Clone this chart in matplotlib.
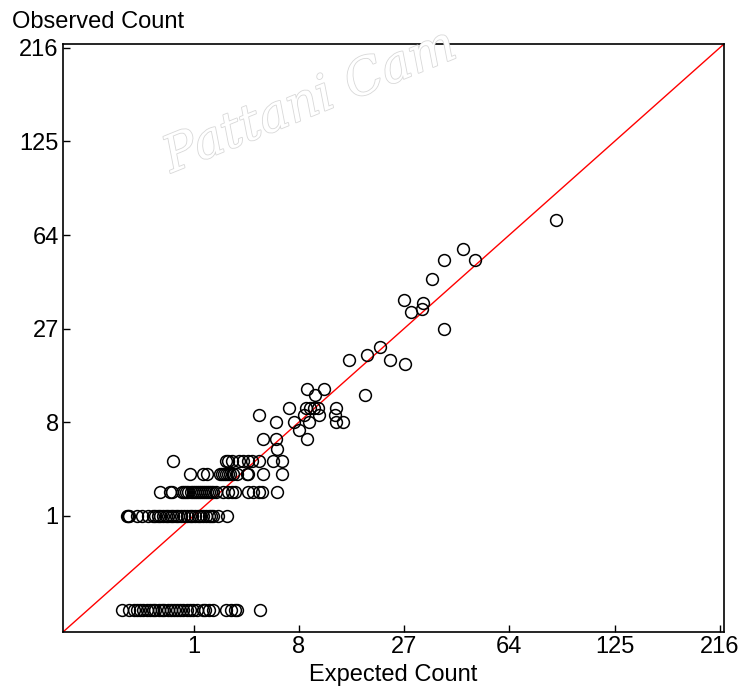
import numpy as np
import matplotlib
matplotlib.use("Agg")
import matplotlib.pyplot as plt
import matplotlib.patheffects as pe

plt.rcParams['font.family'] = ['Liberation Sans', 'DejaVu Sans']

# ---- data (expected count, observed count) ----
upper_expected = [87.6, 45.0, 38.6, 49.7, 34.9, 27.0, 28.7, 32.2, 31.8, 38.6,
                  21.4, 15.25, 18.5, 23.6, 27.2, 18.2, 8.94, 11.27, 10.0]
upper_observed = [72, 57, 52, 52, 44, 36, 32, 35, 33, 27,
                  22, 19, 20, 19, 18, 12, 13, 13, 12]

exp_obs10 = [6.97, 8.85, 9.34, 9.86, 10.39, 13.1]
exp_obs9 = [4.24, 8.60, 10.57, 12.93]
exp_obs8 = [5.65, 7.46, 9.18, 13.1, 14.1]
exp_obs7 = [8.02]
exp_obs6 = [4.55, 5.65, 8.94]
exp_obs5 = [5.79]
exp_obs4 = [0.527, 2.24, 2.35, 2.53, 2.95, 3.19, 3.52, 3.74, 4.29, 5.38, 6.28]
exp_obs3 = [0.90, 1.30, 1.45, 1.96, 2.05, 2.14, 2.25, 2.35, 2.45, 2.58, 2.80,
            3.41, 3.52, 4.55, 6.21]
exp_obs2 = [0.316, 0.47, 0.51, 0.70, 0.75, 0.80, 0.86, 0.92, 0.98, 1.04, 1.10,
            1.17, 1.24, 1.31, 1.38, 1.45, 1.52, 1.60, 1.68, 1.80, 2.11, 2.35,
            2.53, 2.72, 3.52, 3.86, 4.28, 4.47, 5.79]
exp_obs1 = [0.051, 0.055, 0.06, 0.097, 0.13, 0.185, 0.23, 0.26, 0.29, 0.32,
            0.36, 0.40, 0.44, 0.48, 0.53, 0.58, 0.63, 0.69, 0.75, 0.82, 0.89,
            0.96, 1.04, 1.12, 1.21, 1.30, 1.40, 1.50, 1.60, 1.68, 1.88, 2.27]
exp_obs0 = [0.032, 0.06, 0.08, 0.10, 0.12, 0.14, 0.17, 0.20, 0.23, 0.26, 0.30,
            0.34, 0.38, 0.43, 0.48, 0.54, 0.60, 0.67, 0.74, 0.82, 0.90, 0.99,
            1.09, 1.29, 1.38, 1.50, 1.68, 2.24, 2.48, 2.71, 2.84, 4.34]

tick_values = [1, 8, 27, 64, 125, 216]
tick_labels = ["1", "8", "27", "64", "125", "216"]

rows = {10: exp_obs10, 9: exp_obs9, 8: exp_obs8, 7: exp_obs7, 6: exp_obs6,
        5: exp_obs5, 4: exp_obs4, 3: exp_obs3, 2: exp_obs2, 1: exp_obs1,
        0: exp_obs0}

expected = list(upper_expected)
observed = list(upper_observed)
for cnt, xs in rows.items():
    expected += xs
    observed += [cnt] * len(xs)

# ---- figure ----
fig = plt.figure(figsize=(7.46, 6.98), dpi=100)
ax = fig.add_axes([63/746, 1-632/698, (724-63)/746, (632-44)/698])

fwd = lambda v: np.cbrt(v)
inv = lambda v: np.asarray(v) ** 3
ax.set_xscale('function', functions=(fwd, inv))
ax.set_yscale('function', functions=(fwd, inv))

lo, hi = (-0.24) ** 3, 6.04 ** 3
ax.set_xlim(lo, hi)
ax.set_ylim(lo, hi)

ax.plot([lo, hi], [lo, hi], color='red', lw=1.0, zorder=1)
ax.plot(expected, observed, linestyle='none', marker='o', markersize=8.5,
        markerfacecolor='none', markeredgecolor='black', markeredgewidth=1.1,
        zorder=2)

ax.set_xticks(tick_values)
ax.set_xticklabels(tick_labels)
ax.set_yticks(tick_values)
ax.set_yticklabels(tick_labels)
ax.minorticks_off()
ax.tick_params(direction='in', length=5, width=1, labelsize=17, colors='black',
               pad=3)
for s in ax.spines.values():
    s.set_linewidth(1.2)

ax.set_xlabel("Expected Count", fontsize=17, labelpad=4)
fig.text(12/746, 1-22/698, "Observed Count", fontsize=17, ha='left', va='center')

# faint watermark
wm = fig.text(310/746, 1-102/698, "Pattani Cam", fontsize=36, style='italic',
              family=['DejaVu Serif'], rotation=22, ha='center', va='center',
              color='white', alpha=1.0, zorder=0)
wm.set_path_effects([pe.withStroke(linewidth=1.2, foreground='#d8d8d8')])

fig.savefig("out.png", dpi=100)
